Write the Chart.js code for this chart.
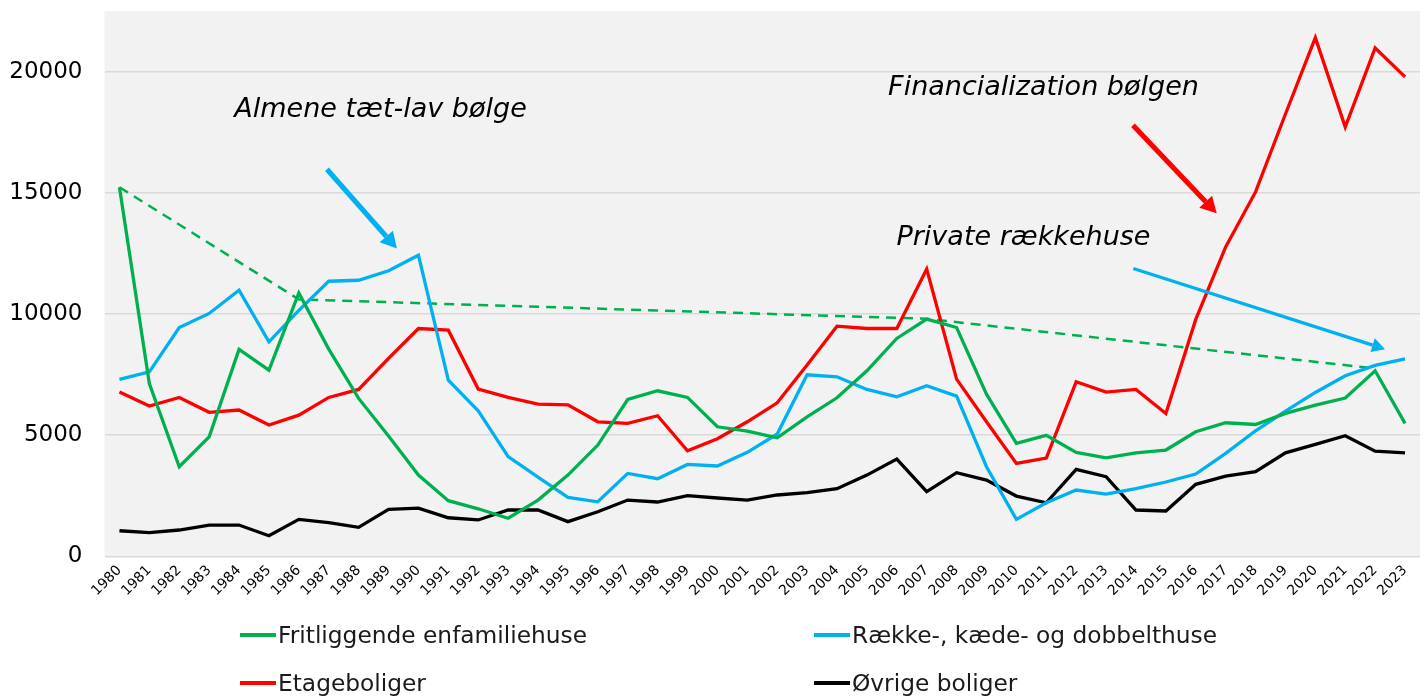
<!DOCTYPE html>
<html>
<head>
<meta charset="utf-8">
<script src="https://cdn.jsdelivr.net/npm/chart.js@4"></script>
<style>
  body { margin: 0; background: #fff; }
  #wrap { position: relative; width: 1426px; height: 696px; }
  #legend { position: absolute; left: 0; top: 0; width: 1426px; height: 696px; pointer-events: none; }
  .item { position: absolute; display: flex; align-items: center; font-family: "DejaVu Sans", sans-serif; font-size: 23.3px; line-height: 28px; color: #1a1a1a; white-space: nowrap; }
  .item span.line { display: inline-block; width: 36px; height: 4px; margin-right: 2px; }
</style>
</head>
<body>
<div id="wrap">
  <canvas id="chart" width="1426" height="696"></canvas>
  <div id="legend"></div>
</div>
<script>
// Data
const years = ['1980','1981','1982','1983','1984','1985','1986','1987','1988','1989',
               '1990','1991','1992','1993','1994','1995','1996','1997','1998','1999',
               '2000','2001','2002','2003','2004','2005','2006','2007','2008','2009',
               '2010','2011','2012','2013','2014','2015','2016','2017','2018','2019',
               '2020','2021','2022','2023'];

const fritliggende = [15230,7130,3695,4930,8535,7680,10870,8550,6515,4960,
                      3350,2295,1960,1570,2320,3350,4590,6470,6830,6555,
                      5345,5165,4890,5755,6540,7655,8990,9785,9440,6690,
                      4660,4990,4290,4065,4270,4385,5140,5510,5440,5895,
                      6240,6530,7655,5485];

const raekke = [7300,7610,9440,10020,10980,8850,10150,11350,11390,11780,
                12425,7270,6005,4110,3270,2430,2250,3420,3200,3790,
                3725,4290,5045,7490,7405,6885,6580,7035,6610,3695,
                1525,2210,2735,2570,2790,3065,3395,4245,5180,5990,
                6760,7450,7875,8150];

const etage = [6775,6200,6555,5940,6035,5415,5825,6555,6885,8165,
               9400,9330,6900,6555,6280,6250,5550,5485,5800,4355,
               4850,5550,6335,7890,9495,9400,9400,11850,7310,5550,
               3835,4055,7200,6775,6885,5895,9775,12765,15035,18250,
               21400,17715,20975,19780];

const oevrige = [1055,975,1085,1290,1290,850,1525,1385,1195,1940,
                 1990,1590,1500,1910,1910,1430,1840,2320,2240,2500,
                 2405,2320,2530,2625,2790,3350,4010,2665,3450,3145,
                 2485,2210,3590,3285,1910,1870,2970,3310,3490,4270,
                 4620,4975,4340,4270];

// dashed trend through the peaks of the green series
const trend = years.map(() => null);
trend[0] = 15230; trend[6] = 10600; trend[27] = 9800; trend[42] = 7750;

const yTicks = [0, 5000, 10000, 15000, 20000];

const series = [
  { label: 'Fritliggende enfamiliehuse', data: fritliggende, color: '#00b050' },
  { label: 'Række-, kæde- og dobbelthuse', data: raekke, color: '#00b0f0' },
  { label: 'Etageboliger', data: etage, color: '#ff0000' },
  { label: 'Øvrige boliger', data: oevrige, color: '#000000' }
];

// annotation texts and arrows, given as [category index, value]
const notes = [
  { text: 'Almene tæt-lav bølge', at: [3.84, 18115] },
  { text: 'Financialization bølgen', at: [25.71, 19020] },
  { text: 'Private rækkehuse', at: [25.99, 12837] }
];
const arrows = [
  { from: [6.94, 15970], to: [9.28, 12700], color: '#00b0f0', width: 5, head: 16 },
  { from: [33.9, 17785], to: [36.7, 14150], color: '#ff0000', width: 5, head: 16 },
  { from: [33.91, 11876], to: [42.33, 8548], color: '#00b0f0', width: 3.3, head: 13 }
];

const bgPlugin = {
  id: 'bg',
  beforeDraw(chart) {
    const { ctx, chartArea: a } = chart;
    ctx.save();
    ctx.fillStyle = '#ffffff';
    ctx.fillRect(0, 0, chart.width, chart.height);
    ctx.fillStyle = '#f2f2f2';
    ctx.fillRect(a.left, a.top, a.right - a.left, a.bottom - a.top);
    ctx.restore();
  }
};

const notesPlugin = {
  id: 'notes',
  afterDatasetsDraw(chart) {
    const { ctx, scales: { x, y } } = chart;
    ctx.save();
    ctx.font = 'oblique 27px "DejaVu Sans"';
    ctx.fillStyle = '#000';
    ctx.textBaseline = 'alphabetic';
    notes.forEach(n => {
      ctx.fillText(n.text, x.getPixelForValue(n.at[0]), y.getPixelForValue(n.at[1]));
    });
    arrows.forEach(a => {
      const x1 = x.getPixelForValue(a.from[0]), y1 = y.getPixelForValue(a.from[1]);
      const x2 = x.getPixelForValue(a.to[0]), y2 = y.getPixelForValue(a.to[1]);
      const ang = Math.atan2(y2 - y1, x2 - x1);
      const bx = x2 - a.head * Math.cos(ang), by = y2 - a.head * Math.sin(ang);
      ctx.strokeStyle = a.color;
      ctx.fillStyle = a.color;
      ctx.lineWidth = a.width;
      ctx.beginPath();
      ctx.moveTo(x1, y1);
      ctx.lineTo(bx, by);
      ctx.stroke();
      const hw = a.head * 0.55;
      ctx.beginPath();
      ctx.moveTo(x2, y2);
      ctx.lineTo(bx + hw * Math.sin(ang), by - hw * Math.cos(ang));
      ctx.lineTo(bx - hw * Math.sin(ang), by + hw * Math.cos(ang));
      ctx.closePath();
      ctx.fill();
    });
    ctx.restore();
  }
};

const datasets = series.map(s => ({
  label: s.label,
  data: s.data,
  borderColor: s.color,
  backgroundColor: s.color,
  borderWidth: 3.3,
  pointRadius: 0,
  tension: 0
}));
datasets.push({
  label: 'trend',
  data: trend,
  borderColor: '#00b050',
  borderWidth: 2.5,
  borderDash: [10, 7],
  pointRadius: 0,
  spanGaps: true,
  tension: 0
});

new Chart(document.getElementById('chart'), {
  type: 'line',
  data: { labels: years, datasets: datasets },
  options: {
    responsive: false,
    animation: false,
    layout: { padding: { top: 11, right: 6, left: 0, bottom: 0 } },
    plugins: { legend: { display: false }, tooltip: { enabled: false } },
    scales: {
      x: {
        offset: true,
        grid: { display: false, drawTicks: false, offset: true },
        border: { display: false },
        ticks: {
          autoSkip: false, minRotation: 45, maxRotation: 45, padding: 6,
          color: '#000', font: { family: 'DejaVu Sans', size: 14 }
        },
        afterFit(scale) {
          scale.height = 139.7;
          scale.paddingLeft = 0; scale.paddingRight = 0;
        }
      },
      y: {
        min: 0, max: 22500,
        afterBuildTicks(scale) { scale.ticks = yTicks.map(v => ({ value: v })); },
        grid: { color: '#d9d9d9', lineWidth: 1.5, drawTicks: false },
        border: { display: false },
        ticks: {
          padding: 22, color: '#000', font: { family: 'DejaVu Sans', size: 23 },
          callback: v => String(v)
        },
        afterFit(scale) {
          scale.width = 104.5;
          scale.paddingTop = 0; scale.paddingBottom = 0;
        }
      }
    }
  },
  plugins: [bgPlugin, notesPlugin]
});

// legend, two columns like the original
const legendPos = [[240, 635], [814, 635], [240, 683], [814, 683]];
const legendEl = document.getElementById('legend');
series.forEach((s, i) => {
  const d = document.createElement('div');
  d.className = 'item';
  d.style.left = legendPos[i][0] + 'px';
  d.style.top = (legendPos[i][1] - 14) + 'px';
  d.innerHTML = '<span class="line" style="background:' + s.color + '"></span>' + s.label;
  legendEl.appendChild(d);
});
</script>
</body>
</html>
